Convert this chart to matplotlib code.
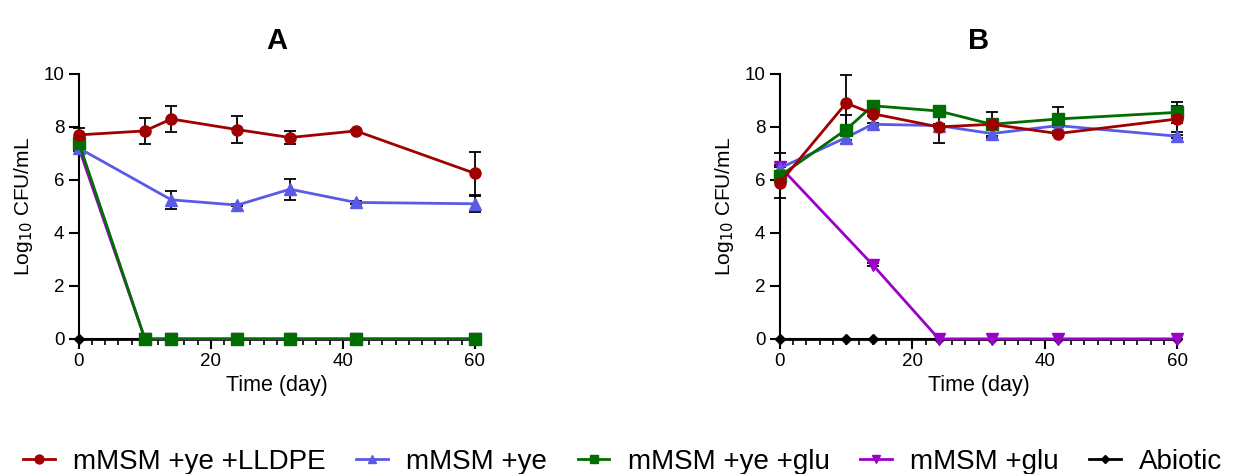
import numpy as np
import matplotlib.pyplot as plt
from matplotlib.ticker import MultipleLocator

plt.rcParams['font.family'] = ['Liberation Sans', 'DejaVu Sans']

labels = ['mMSM +ye +LLDPE', 'mMSM +ye', 'mMSM +ye +glu', 'mMSM +glu', 'Abiotic']
colors = ['#a00000', '#5a5ae6', '#006e00', '#9a00c8', '#000000']
markers = ['o', '^', 's', 'v', 'D']

# panel A
a_lldpe_t = [0, 10, 14, 24, 32, 42, 60]
a_lldpe_y = [7.7, 7.85, 8.3, 7.9, 7.6, 7.85, 6.25]
a_lldpe_e = [0.25, 0.5, 0.5, 0.5, 0.25, 0.05, 0.8]
a_ye_t = [0, 14, 24, 32, 42, 60]
a_ye_y = [7.2, 5.25, 5.05, 5.65, 5.15, 5.1]
a_ye_e = [0.1, 0.35, 0.05, 0.4, 0.05, 0.3]
a_yeglu_t = [0, 10, 14, 24, 32, 42, 60]
a_yeglu_y = [7.4, 0, 0, 0, 0, 0, 0]
a_yeglu_e = [0.1, 0, 0, 0, 0, 0, 0]
a_glu_t = [0, 10, 14, 24, 32, 42, 60]
a_glu_y = [7.2, 0, 0, 0, 0, 0, 0]
a_glu_e = [0, 0, 0, 0, 0, 0, 0]
a_abio_t = [0, 10, 14, 24, 32, 42, 60]
a_abio_y = [0, 0, 0, 0, 0, 0, 0]

# panel B
b_lldpe_t = [0, 10, 14, 24, 32, 42, 60]
b_lldpe_y = [5.9, 8.9, 8.5, 8.0, 8.1, 7.75, 8.3]
b_lldpe_e = [0.6, 1.05, 0.1, 0.6, 0.1, 0.05, 0.5]
b_ye_t = [0, 10, 14, 24, 32, 42, 60]
b_ye_y = [6.45, 7.6, 8.1, 8.05, 7.75, 8.05, 7.65]
b_ye_e = [0.1, 0.1, 0.05, 0.05, 0.15, 0.05, 0.05]
b_yeglu_t = [0, 10, 14, 24, 32, 42, 60]
b_yeglu_y = [6.15, 7.9, 8.8, 8.6, 8.1, 8.3, 8.55]
b_yeglu_e = [0.1, 0.55, 0.05, 0.05, 0.45, 0.45, 0.4]
b_glu_t = [0, 14, 24, 32, 42, 60]
b_glu_y = [6.5, 2.8, 0, 0, 0, 0]
b_glu_e = [0.5, 0.05, 0, 0, 0, 0]
b_abio_t = [0, 10, 14, 24, 32, 42, 60]
b_abio_y = [0, 0, 0, 0, 0, 0, 0]

panel_a = [(a_lldpe_t, a_lldpe_y, a_lldpe_e), (a_ye_t, a_ye_y, a_ye_e),
           (a_yeglu_t, a_yeglu_y, a_yeglu_e), (a_glu_t, a_glu_y, a_glu_e),
           (a_abio_t, a_abio_y, None)]
panel_b = [(b_lldpe_t, b_lldpe_y, b_lldpe_e), (b_ye_t, b_ye_y, b_ye_e),
           (b_yeglu_t, b_yeglu_y, b_yeglu_e), (b_glu_t, b_glu_y, b_glu_e),
           (b_abio_t, b_abio_y, None)]

fig = plt.figure(figsize=(12.33, 4.74), dpi=100)
ax_a = fig.add_axes([0.064, 0.285, 0.321, 0.559])
ax_b = fig.add_axes([0.6326, 0.285, 0.322, 0.559])

order = [4, 3, 1, 2, 0]  # draw order, red on top
handles = [None] * 5
for ax, data, title in [(ax_a, panel_a, 'A'), (ax_b, panel_b, 'B')]:
    for k, i in enumerate(order):
        t, y, e = data[i]
        if e is not None:
            ax.errorbar(t, y, yerr=e, fmt='none', ecolor='black', elinewidth=1.3,
                        capsize=4, capthick=1.3, zorder=2 + k * 0.1, clip_on=False)
        ms = 5 if markers[i] == 'D' else 8
        h, = ax.plot(t, y, color=colors[i], marker=markers[i], ms=ms, lw=2,
                     zorder=3 + k * 0.1, clip_on=False)
        handles[i] = h
    ax.set_xlim(0, 60)
    ax.set_ylim(0, 10)
    ax.xaxis.set_major_locator(MultipleLocator(20))
    ax.xaxis.set_minor_locator(MultipleLocator(2))
    ax.yaxis.set_major_locator(MultipleLocator(2))
    ax.spines['top'].set_visible(False)
    ax.spines['right'].set_visible(False)
    for s in ['left', 'bottom']:
        ax.spines[s].set_linewidth(1.5)
    ax.tick_params(which='major', length=7, width=1.5, labelsize=13.5)
    ax.tick_params(which='minor', length=4, width=1.2)
    ax.set_xlabel('Time (day)', fontsize=15.5, labelpad=3)
    ax.set_ylabel('Log$_{10}$ CFU/mL', fontsize=15, labelpad=6)
    ax.set_title(title, fontsize=21, fontweight='bold', pad=18)

fig.legend(handles, labels, loc='center', bbox_to_anchor=(0.505, 12 / 474), ncol=5,
           frameon=False, fontsize=20, handlelength=1.15, columnspacing=1.1,
           handletextpad=0.65, markerscale=0.8, borderpad=0)

fig.savefig('out.png', dpi=100)
